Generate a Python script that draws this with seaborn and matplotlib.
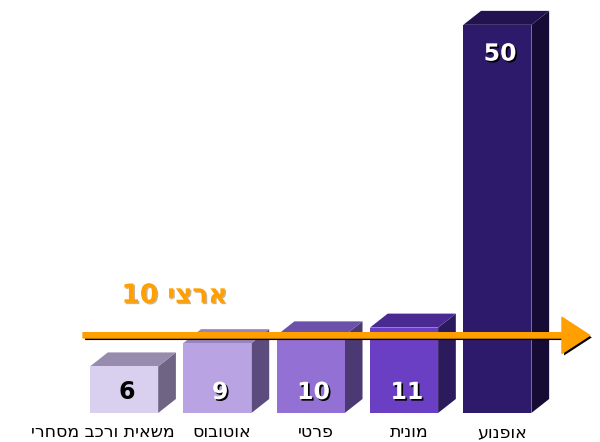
import matplotlib
matplotlib.use("Agg")
import matplotlib.pyplot as plt
import matplotlib.patheffects as pe
from matplotlib.patches import Polygon, FancyArrowPatch
import seaborn as sns
import pandas as pd

# data
categories = ["משאית ורכב מסחרי", "אוטובוס", "פרטי", "מונית", "אופנוע"]
values = [6, 9, 10, 11, 50]
national_avg = 10
national_label = "ארצי"

front_colors = ["#d9d0ef", "#b9a3e3", "#9370d3", "#6a3fc3", "#2d1a6b"]
top_colors = ["#978cad", "#9785c2", "#6b51aa", "#4a2a92", "#221350"]
side_colors = ["#6f6484", "#5c4c7e", "#4a3973", "#2b1b5c", "#150b34"]


def rtl(s):
    # matplotlib has no bidi support, so flip Hebrew to visual order
    return s[::-1]


df = pd.DataFrame({"cat": categories, "val": values})

sns.set_style("white")
plt.rcParams["font.family"] = ["DejaVu Sans"]

fig = plt.figure(figsize=(6, 4.42), dpi=100)
ax = fig.add_axes([0, 0, 1, 1])

sns.barplot(data=df, x="cat", y="val", hue="cat", order=categories,
            palette=front_colors, width=0.73, saturation=1, legend=False,
            edgecolor="none", linewidth=0, ax=ax, zorder=3)

ax.set_xlim(-1.33, 5.1)
ax.set_ylim(-3.74, 53.2)
ax.set_axis_off()

# fake 3d depth
dx, dy = 0.19, 1.8
for i, p in enumerate(ax.patches):
    x0 = p.get_x()
    x1 = x0 + p.get_width()
    h = p.get_height()
    side = Polygon([(x1, 0), (x1 + dx, dy), (x1 + dx, h + dy), (x1, h)],
                   closed=True, facecolor=side_colors[i], edgecolor="none", zorder=2)
    top = Polygon([(x0, h), (x0 + dx, h + dy), (x1 + dx, h + dy), (x1, h)],
                  closed=True, facecolor=top_colors[i], edgecolor="none", zorder=2)
    ax.add_patch(side)
    ax.add_patch(top)

    xc = x0 + p.get_width() / 2
    ty = 2.7 if h < 20 else h - 3.7
    if i == 0:
        ax.text(xc + 0.03, ty, str(values[i]), ha="center", va="center",
                fontsize=17, fontweight="bold", color="black", zorder=5)
    else:
        ax.text(xc + 0.03, ty, str(values[i]), ha="center", va="center",
                fontsize=17, fontweight="bold", color="white", zorder=5,
                path_effects=[pe.withSimplePatchShadow(offset=(1.2, -1.2),
                                                       shadow_rgbFace="black", alpha=1)])

    # category labels under bars
    if i == 0:
        ax.text(x1 + 0.18, -2.45, rtl(categories[i]), ha="right", va="center",
                fontsize=12.5, color="black")
    else:
        ax.text(xc + 0.05, -2.45, rtl(categories[i]), ha="center", va="center",
                fontsize=12.5, color="black")

# national average arrow
arrow = FancyArrowPatch((-0.47, national_avg), (5.02, national_avg),
                        arrowstyle="simple,head_length=2.0,head_width=2.6,tail_width=0.38",
                        mutation_scale=10, color="#ffa000", zorder=6,
                        path_effects=[pe.SimplePatchShadow(offset=(1.5, -1.5),
                                                           shadow_rgbFace="black", alpha=1),
                                      pe.Normal()])
ax.add_patch(arrow)

ax.text(0.54, 15.1, str(national_avg) + " " + rtl(national_label), ha="center",
        va="center", fontsize=19, fontweight="bold", color="#ffa000", zorder=6,
        path_effects=[pe.withSimplePatchShadow(offset=(1, -1),
                                               shadow_rgbFace="#b08040", alpha=0.6)])

fig.savefig("out.png", dpi=100)
